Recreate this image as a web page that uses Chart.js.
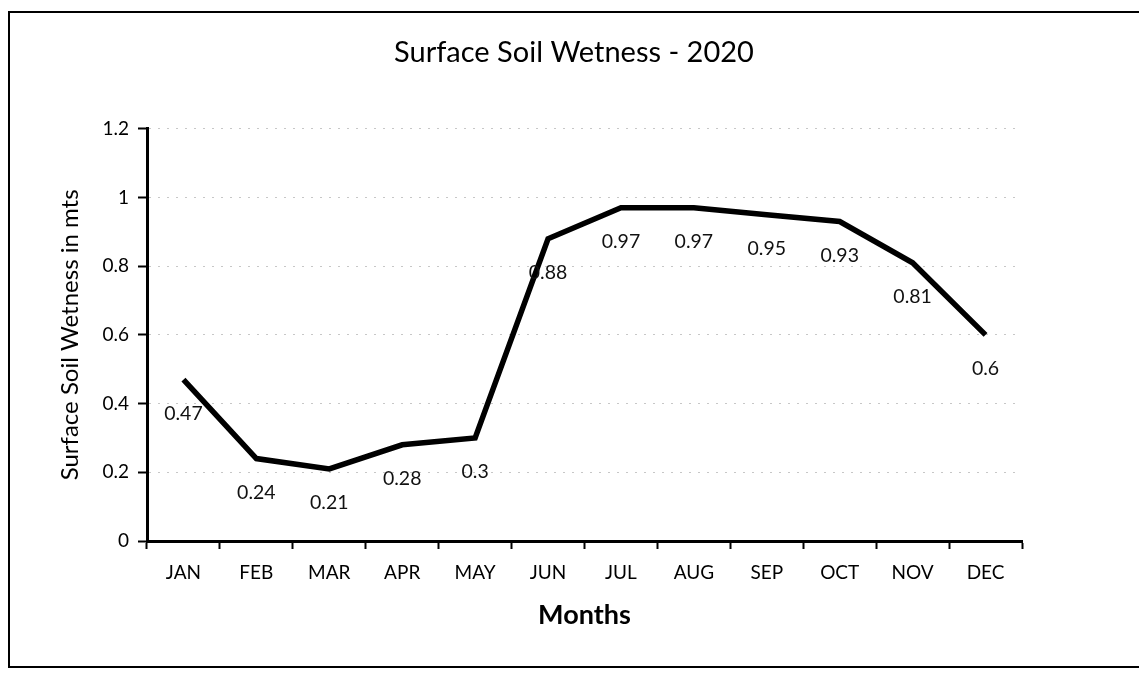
<!DOCTYPE html>
<html>
<head>
<meta charset="utf-8">
<title>Surface Soil Wetness - 2020</title>
<script src="https://cdn.jsdelivr.net/npm/chart.js@4.4.1/dist/chart.umd.min.js"></script>
<style>
  html, body { margin: 0; padding: 0; background: #fff; }
  #wrap { position: relative; width: 1139px; height: 677px; }
  #frame {
    position: absolute; left: 8px; top: 11px; width: 1140px; height: 653px;
    border: 2px solid #000; pointer-events: none;
  }
</style>
</head>
<body>
<div id="wrap">
  <canvas id="soil" width="1139" height="677"></canvas>
  <div id="frame"></div>
</div>
<script>
const months = ['JAN', 'FEB', 'MAR', 'APR', 'MAY', 'JUN', 'JUL', 'AUG', 'SEP', 'OCT', 'NOV', 'DEC'];
const wetness = [0.47, 0.24, 0.21, 0.28, 0.3, 0.88, 0.97, 0.97, 0.95, 0.93, 0.81, 0.6];
const yTicks = [0, 0.2, 0.4, 0.6, 0.8, 1, 1.2];

const FONT = 'Lato, "Open Sans", sans-serif';

// value labels printed under each point of the line
const valueLabels = {
  id: 'valueLabels',
  afterDatasetsDraw(chart) {
    const ctx = chart.ctx;
    const meta = chart.getDatasetMeta(0);
    ctx.save();
    ctx.font = '19.5px ' + FONT;
    ctx.fillStyle = '#111';
    ctx.textAlign = 'center';
    ctx.textBaseline = 'middle';
    meta.data.forEach((pt, i) => {
      ctx.fillText(String(wetness[i]), pt.x, pt.y + 34);
    });
    ctx.restore();
  }
};

const ctx = document.getElementById('soil').getContext('2d');
new Chart(ctx, {
  type: 'line',
  data: {
    labels: months,
    datasets: [{
      label: 'Surface Soil Wetness',
      data: wetness,
      borderColor: '#000',
      borderWidth: 5.5,
      pointRadius: 0,
      tension: 0,
      fill: false
    }]
  },
  options: {
    responsive: false,
    animation: false,
    layout: { padding: { left: 9, top: 12, right: 0, bottom: 42 } },
    plugins: {
      legend: { display: false },
      tooltip: { enabled: false },
      title: {
        display: true,
        text: 'Surface Soil Wetness - 2020',
        color: '#000',
        font: { family: FONT, size: 29, weight: 'normal' },
        padding: { top: 23, bottom: 59 }
      }
    },
    scales: {
      x: {
        offset: true,
        grid: {
          offset: true,
          drawOnChartArea: false,
          drawTicks: true,
          tickLength: 8,
          tickColor: '#000',
          tickWidth: 2
        },
        border: { display: true, color: '#000', width: 3 },
        ticks: { color: '#000', padding: 12, font: { family: FONT, size: 19 } },
        title: {
          display: true,
          text: 'Months',
          color: '#000',
          font: { family: FONT, size: 27, weight: 'bold' },
          padding: { top: 10 }
        },
        afterFit(scale) { scale.height = 94; }
      },
      y: {
        min: 0,
        max: 1.2,
        afterBuildTicks(scale) { scale.ticks = yTicks.map(v => ({ value: v })); },
        grid: {
          color: 'rgba(0,0,0,0.22)',
          lineWidth: 1,
          tickColor: '#000',
          tickWidth: 2,
          tickLength: 9,
          drawTicks: true
        },
        border: { display: true, color: '#000', width: 3, dash: [2, 7] },
        ticks: {
          color: '#000',
          padding: 9,
          font: { family: FONT, size: 19 },
          callback: v => String(Math.round(v * 10) / 10)
        },
        title: {
          display: true,
          text: 'Surface Soil Wetness in mts',
          color: '#000',
          font: { family: FONT, size: 24, weight: 'normal' },
          padding: { top: 47, bottom: 0 }
        },
        afterFit(scale) { scale.width = 138; }
      },
      spacer: {
        position: 'right',
        display: true,
        grid: { display: false },
        border: { display: false },
        ticks: { display: false },
        afterFit(scale) { scale.width = 117; }
      }
    }
  },
  plugins: [valueLabels]
});
</script>
</body>
</html>
